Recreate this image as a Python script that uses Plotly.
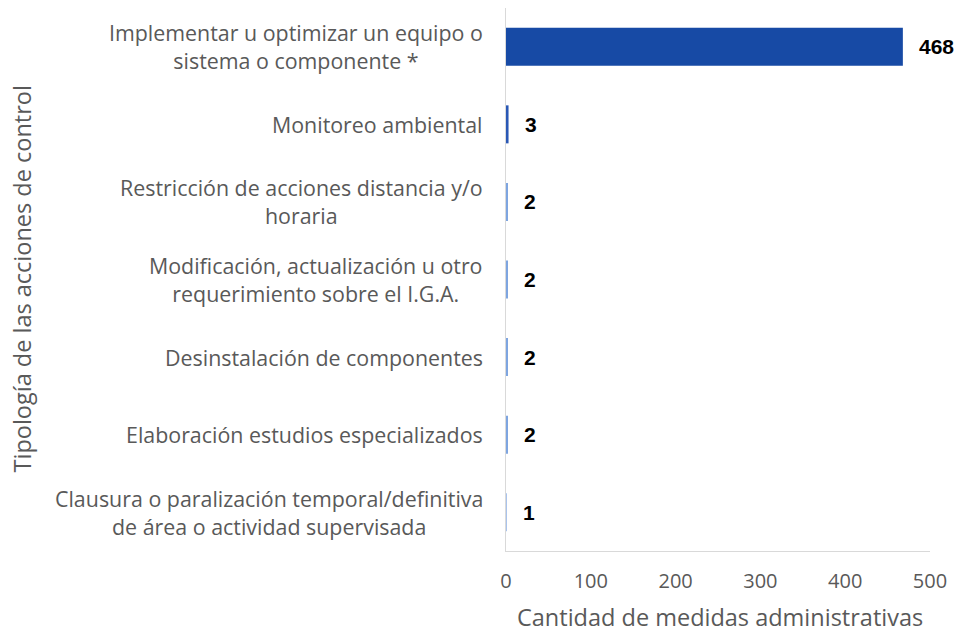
import plotly.graph_objects as go

categories = [
    "Implementar u optimizar un equipo o<br>sistema o componente *",
    "Monitoreo ambiental",
    "Restricción de acciones distancia y/o<br>horaria",
    "Modificación, actualización u otro<br>requerimiento sobre el I.G.A.",
    "Desinstalación de componentes",
    "Elaboración estudios especializados",
    "Clausura o paralización temporal/definitiva<br>de área o actividad supervisada",
]
values = [468, 3, 2, 2, 2, 2, 1]
bar_colors = ["#174AA5", "#2A58B5", "#7EA5E0", "#7EA5E0", "#7EA5E0", "#7EA5E0", "#A9C3EC"]
x_ticks = [0, 100, 200, 300, 400, 500]
x_title = "Cantidad de medidas administrativas"
y_title = "Tipología de las acciones de control"

GRAY = "#595959"
fig = go.Figure()
fig.add_trace(go.Bar(
    y=categories, x=values, orientation="h",
    marker=dict(color=bar_colors, line=dict(width=0)),
    hoverinfo="x+y",
))
# value labels
for c, v in zip(categories, values):
    fig.add_annotation(
        x=v, y=c, text=f"<b>{v}</b>", showarrow=False,
        xanchor="left", xshift=14,
        font=dict(family="Liberation Sans, Arial", size=21, color="#000000"),
    )
# category labels (centered multi-line, right-anchored)
for c in categories:
    fig.add_annotation(
        x=0, xref="paper", y=c, yref="y", text=c, showarrow=False,
        xanchor="right", xshift=-21, align="center",
        font=dict(family="Open Sans", size=21.4, color=GRAY),
    )
# axis titles
fig.add_annotation(
    x=0.505, xref="paper", y=0, yref="paper", yanchor="middle", yshift=-66,
    text=x_title, showarrow=False,
    font=dict(family="Open Sans", size=23.5, color=GRAY),
)
fig.add_annotation(
    x=0, xref="paper", xshift=-485, xanchor="center", y=0.5, yref="paper",
    text=y_title, showarrow=False, textangle=-90,
    font=dict(family="Open Sans", size=23.5, color=GRAY),
)

fig.update_layout(
    width=960, height=632,
    margin=dict(l=506, r=30, t=8, b=81),
    paper_bgcolor="white", plot_bgcolor="white",
    bargap=0.51,
    showlegend=False,
    font=dict(family="Open Sans", color=GRAY),
)
fig.update_xaxes(
    range=[0, 500], tickvals=x_ticks,
    showgrid=False, zeroline=False, automargin=False,
    showline=True, linecolor="#D9D9D9", linewidth=1,
    tickfont=dict(family="Open Sans", size=20, color=GRAY),
    ticks="", ticklabelstandoff=12,
)
fig.update_yaxes(
    categoryorder="array", categoryarray=categories[::-1],
    showgrid=False, zeroline=False, automargin=False,
    showline=True, linecolor="#D9D9D9", linewidth=1,
    showticklabels=False, ticks="",
)

fig.write_html("out.html", config={"displayModeBar": False},
               post_script="document.body.style.margin='0';")
